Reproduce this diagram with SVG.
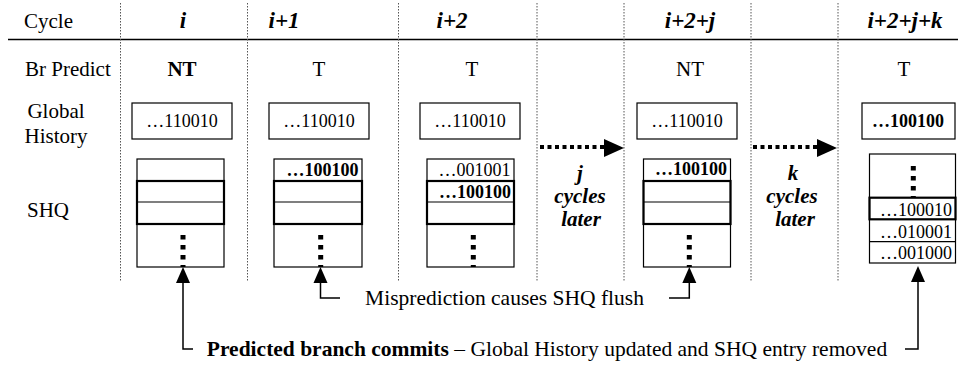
<svg xmlns="http://www.w3.org/2000/svg" width="958" height="371" viewBox="0 0 958 371" font-family="'Liberation Serif', 'DejaVu Serif', serif">
<style>
text{font-family:"Liberation Serif","DejaVu Serif","Times New Roman",serif;fill:#000}
.lbl{font-size:21px}
.cyc{font-size:23px;font-weight:bold;font-style:italic;text-anchor:middle}
.pred{font-size:21px;text-anchor:middle}
.gh{font-size:18px;text-anchor:middle}
.q{font-size:18px;text-anchor:end}
.b{font-weight:bold}
.later{font-size:21px;font-weight:bold;font-style:italic;text-anchor:middle}
.note{font-size:21.5px;text-anchor:middle}
.sep{stroke:#555;stroke-width:1;stroke-dasharray:1.5 1.5;fill:none}
.box{fill:#fff;stroke:#000;stroke-width:1.2}
.thick{fill:none;stroke:#000;stroke-width:2.2}
.ln{stroke:#000;stroke-width:1.2;fill:none}
.dots{stroke:#000;stroke-width:5;stroke-dasharray:4.5 5.5;fill:none}
.hdots{stroke:#000;stroke-width:4;stroke-dasharray:4 3.5;fill:none}
.conn{stroke:#000;stroke-width:1.5;fill:none}
</style>

<g id="grid">
  <line x1="8" y1="39.5" x2="958" y2="39.5" stroke="#000" stroke-width="1.5"/>
  <line class="sep" x1="120.5" y1="3" x2="120.5" y2="282"/>
  <line class="sep" x1="247.5" y1="3" x2="247.5" y2="282"/>
  <line class="sep" x1="398.5" y1="3" x2="398.5" y2="282"/>
  <line class="sep" x1="537" y1="3" x2="537" y2="282"/>
  <line class="sep" x1="624" y1="3" x2="624" y2="282"/>
  <line class="sep" x1="751" y1="3" x2="751" y2="282"/>
  <line class="sep" x1="838" y1="3" x2="838" y2="282"/>
</g>

<g id="row-labels">
  <text class="lbl" x="24" y="28">Cycle</text>
  <text class="lbl" x="25" y="76">Br Predict</text>
  <text class="lbl" x="56" y="118" text-anchor="middle">Global</text>
  <text class="lbl" x="56" y="143" text-anchor="middle">History</text>
  <text class="lbl" x="27" y="217">SHQ</text>
</g>

<g id="col-i">
  <text class="cyc" x="183" y="28">i</text>
  <text class="pred b" x="182" y="76">NT</text>
  <rect class="box" x="132" y="103" width="100" height="36"/>
  <text class="gh" x="182" y="127">…110010</text>
  <rect class="box" x="137" y="159" width="87" height="108"/>
  <line class="ln" x1="137" y1="202" x2="224" y2="202"/>
  <rect class="thick" x="137" y="181" width="87" height="43"/>
  <line class="dots" x1="183" y1="235" x2="183" y2="267"/>
</g>

<g id="col-i1">
  <text class="cyc" x="284" y="28">i+1</text>
  <text class="pred" x="319" y="76">T</text>
  <rect class="box" x="269" y="103" width="100" height="36"/>
  <text class="gh" x="319" y="127">…110010</text>
  <rect class="box" x="274" y="159" width="88" height="108"/>
  <line class="ln" x1="274" y1="202" x2="362" y2="202"/>
  <rect class="thick" x="274" y="181" width="88" height="43"/>
  <text class="q b" x="358.5" y="176">…100100</text>
  <line class="dots" x1="320.7" y1="235" x2="320.7" y2="267"/>
</g>

<g id="col-i2">
  <text class="cyc" x="452" y="28">i+2</text>
  <text class="pred" x="472" y="76">T</text>
  <rect class="box" x="420" y="103" width="100" height="36"/>
  <text class="gh" x="470" y="127">…110010</text>
  <rect class="box" x="427" y="159" width="87" height="108"/>
  <line class="ln" x1="427" y1="202" x2="514" y2="202"/>
  <rect class="thick" x="427" y="181" width="87" height="43"/>
  <text class="q" x="510.5" y="175.5">…001001</text>
  <text class="q b" x="511" y="197.5">…100100</text>
  <line class="dots" x1="473.3" y1="235" x2="473.3" y2="267"/>
</g>

<g id="gap-j">
  <text class="later" x="580" y="180">j</text>
  <text class="later" x="580" y="203">cycles</text>
  <text class="later" x="581" y="226">later</text>
</g>

<g id="col-i2j">
  <text class="cyc" x="690" y="28">i+2+j</text>
  <text class="pred" x="690" y="76">NT</text>
  <rect class="box" x="637" y="103" width="100" height="36"/>
  <text class="gh" x="687" y="127">…110010</text>
  <rect class="box" x="643.5" y="159" width="87" height="108"/>
  <line class="ln" x1="643.5" y1="202" x2="730.5" y2="202"/>
  <rect class="thick" x="643.5" y="181" width="87" height="43"/>
  <text class="q b" x="727" y="175">…100100</text>
  <line class="dots" x1="689.3" y1="235" x2="689.3" y2="267"/>
</g>

<g id="gap-k">
  <text class="later" x="793" y="180">k</text>
  <text class="later" x="792" y="203">cycles</text>
  <text class="later" x="795" y="226">later</text>
</g>

<g id="col-i2jk">
  <text class="cyc" x="905" y="28">i+2+j+k</text>
  <text class="pred" x="904" y="76">T</text>
  <rect class="box" x="862" y="103" width="93" height="36"/>
  <text class="gh b" x="908" y="127">…100100</text>
  <rect class="box" x="869.5" y="154" width="86" height="109"/>
  <line class="dots" x1="913.3" y1="166" x2="913.3" y2="198"/>
  <line class="ln" x1="869.5" y1="241.7" x2="955.5" y2="241.7"/>
  <rect class="thick" x="869.5" y="197.7" width="86" height="21.6"/>
  <text class="q" x="952" y="215.5">…100010</text>
  <text class="q" x="952" y="238">…010001</text>
  <text class="q" x="952" y="259">…001000</text>
</g>

<g id="connectors">
  <line class="hdots" x1="540" y1="147" x2="606" y2="147"/>
  <polygon points="604,139 624,148 604,157" fill="#000"/>
  <line class="hdots" x1="753" y1="147" x2="818" y2="147"/>
  <polygon points="817,139 837,148 817,157" fill="#000"/>

  <polyline class="conn" points="183,280 183,349 193,349"/>
  <polygon points="176,283 183,267 190,283" fill="#000"/>
  <polyline class="conn" points="320.5,280 320.5,298 340,298"/>
  <polygon points="313.5,283 320.5,267 327.5,283" fill="#000"/>
  <polyline class="conn" points="669,298 689.3,298 689.3,280"/>
  <polygon points="682.3,283 689.3,267 696.3,283" fill="#000"/>
  <polyline class="conn" points="905,349 918,349 918,280"/>
  <polygon points="911,282 918,266 925,282" fill="#000"/>
</g>

<g id="notes">
  <text class="note" x="504.5" y="305">Misprediction causes SHQ flush</text>
  <text class="note" x="547" y="356"><tspan font-weight="bold">Predicted branch commits</tspan> – Global History updated and SHQ entry removed</text>
</g>
</svg>
